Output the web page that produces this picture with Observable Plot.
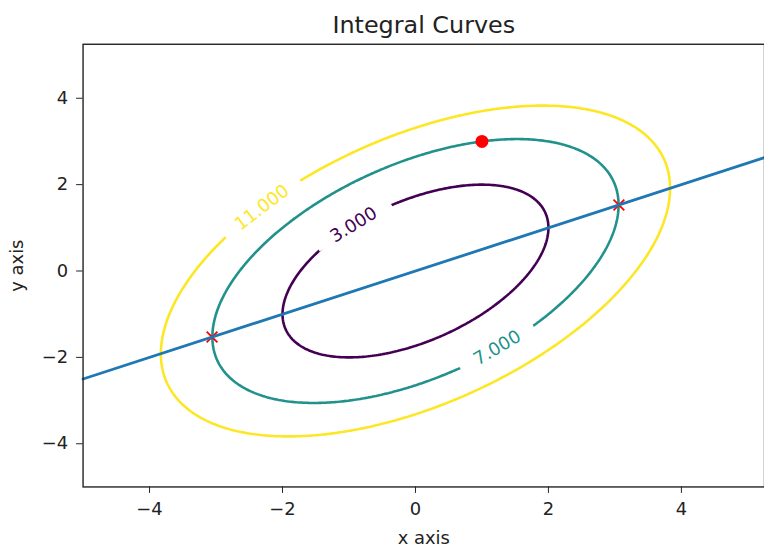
<!DOCTYPE html>
<html>
<head>
<meta charset="utf-8">
<script src="https://cdn.jsdelivr.net/npm/d3@7"></script>
<script src="https://cdn.jsdelivr.net/npm/@observablehq/plot@0.6"></script>
<style>
  html, body { margin: 0; padding: 0; background: #fff; overflow: hidden; }
  #chart { width: 764px; height: 552px; overflow: hidden; }
</style>
</head>
<body>
<div id="chart"></div>
<script>
// ---- data ----
const titleText = "Integral Curves";
const xLabel = "x axis";
const yLabel = "y axis";
const xLim = [-5, 5.25];
const yLim = [-5, 5.25];
const xTicks = [-4, -2, 0, 2, 4];
const yTicks = [-4, -2, 0, 2, 4];

// integral curves: a*x^2 + b*x*y + c*y^2 = level
const quadCoef = [1, -1, 1];
const levels = [3, 7, 11];
const levelColors = ["#440154", "#21918c", "#fde725"];
const levelLabels = ["3.000", "7.000", "11.000"];
const labelX = [-0.93, 1.23, -2.31];
const labelY = [1.07, -1.78, 1.47];
const labelAngle = [-31.5, -30.5, -37.2];
const labelGap = [86, 85, 94];

// straight line y = x/2
const lineX = [-5, 5.25];
const lineY = [-2.5, 2.625];

// marked points
const crossX = [-3.06, 3.06];
const crossY = [-1.53, 1.53];
const dotX = [1];
const dotY = [3];

// ---- build ----
// negated so that the enclosed region (inside the ellipse) never touches the grid border
const negF = (x, y) => -(quadCoef[0] * x * x + quadCoef[1] * x * y + quadCoef[2] * y * y);
const lineData = lineX.map((x, i) => ({x, y: lineY[i]}));
const crossData = crossX.map((x, i) => ({x, y: crossY[i]}));
const dotData = dotX.map((x, i) => ({x, y: dotY[i]}));
const labelData = levels.map((v, i) => ({
  v, text: levelLabels[i], x: labelX[i], y: labelY[i],
  angle: labelAngle[i], gap: labelGap[i], color: levelColors[i]
}));

const segShape = {
  draw(context, l) { context.moveTo(0, 0); context.lineTo(0, -l); }
};

const marks = [];
levels.forEach((lv, i) => {
  marks.push(Plot.contour({
    value: negF, x1: xLim[0], x2: xLim[1], y1: yLim[0], y2: yLim[1],
    thresholds: [-lv], fill: "none", stroke: levelColors[i], strokeWidth: 2.6
  }));
});
// inline gaps under labels
labelData.forEach(d => {
  marks.push(Plot.vector([d], {
    x: "x", y: "y", length: d.gap, rotate: 90 + d.angle, anchor: "middle",
    shape: segShape, stroke: "white", strokeWidth: 10, strokeLinecap: "butt"
  }));
  marks.push(Plot.text([d], {
    x: "x", y: "y", text: "text", rotate: d.angle, fill: d.color,
    fontSize: 18, textAnchor: "middle", lineAnchor: "middle"
  }));
});

marks.push(
  Plot.dot(crossData, {x: "x", y: "y", symbol: "times", stroke: "red", r: 5, strokeWidth: 1.8}),
  Plot.line(lineData, {x: "x", y: "y", stroke: "#1f77b4", strokeWidth: 2.8}),
  Plot.dot(dotData, {x: "x", y: "y", fill: "red", r: 6.5}),
  Plot.frame({stroke: "#222", strokeWidth: 1.4}),
  Plot.axisX({ticks: xTicks, tickSize: 6.5, tickPadding: 9, label: null, fontSize: 18, stroke: "#222"}),
  Plot.axisY({ticks: yTicks, tickSize: 6.5, tickPadding: 8.5, label: null, fontSize: 18, stroke: "#222"}),
  Plot.text([titleText], {text: d => d, frameAnchor: "top", dy: -11, lineAnchor: "bottom", fontSize: 24}),
  Plot.text([xLabel], {text: d => d, frameAnchor: "bottom", dy: 57, lineAnchor: "bottom", textAnchor: "middle", fontSize: 18}),
  Plot.text([yLabel], {text: d => d, frameAnchor: "left", dx: -60, rotate: -90, lineAnchor: "bottom", textAnchor: "middle", fontSize: 18})
);

const chart = Plot.plot({
  width: 768, height: 552,
  marginLeft: 83, marginRight: 0, marginTop: 44, marginBottom: 63,
  x: {domain: xLim},
  y: {domain: yLim},
  style: {fontFamily: "DejaVu Sans", fontSize: "18px", color: "#222", background: "white"},
  marks
});
document.getElementById("chart").appendChild(chart);
</script>
</body>
</html>
